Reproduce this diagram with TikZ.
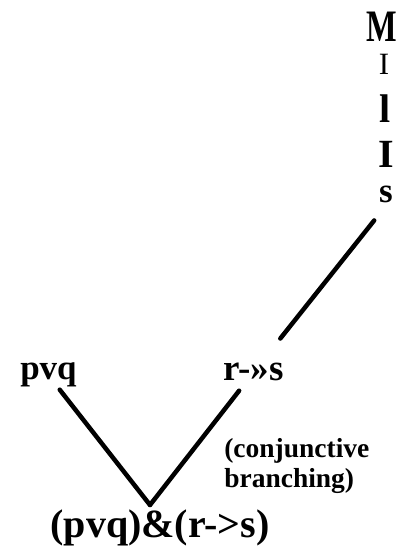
\documentclass[tikz,border=0pt]{standalone}
\usepackage{fontspec}
\setmainfont{Liberation Serif}
\tikzset{
  tr/.style={x=1pt, y=1pt, line width=4.5pt, line cap=round, line join=round},
  lbl/.style={inner sep=0pt, anchor=base, font=\bfseries\fontsize{#1}{#1}\selectfont},
  lbl/.default=35,
  thin/.style={font=\mdseries\fontsize{31}{31}\selectfont}
}

\begin{document}
\begin{tikzpicture}[tr]
\useasboundingbox (0,0) rectangle (397,546);
\node[lbl=45] (m) at (382,504) {\scalebox{.72}[1]{M}};
\node[lbl, thin] (i1) at (384,471) {I};
\node[lbl=40] (l) at (385,423) {l};
\node[lbl=40] (i2) at (386,378) {I};
\node[lbl=35] (s) at (386,343) {s};
\node[lbl, anchor=base west] (pvq) at (18,166) {pvq};
\node[lbl=37, anchor=base west] (r) at (221,165) {r-»s};
\node[lbl=27.5, anchor=base west] (c1) at (222,88) {(conjunctive};
\node[lbl=27.5, anchor=base west] (c2) at (222,58) {branching)};
\node[lbl=40] (conj) at (160,9) {(pvq)\&(r->s)};
\coordinate (apex) at (150,41);
\draw[shorten <=19pt, shorten >=29pt] (s.south) -- (r);
\draw (pvq) -- (apex);
\draw[shorten <=9pt] (r) -- (apex);
\end{tikzpicture}
\end{document}
